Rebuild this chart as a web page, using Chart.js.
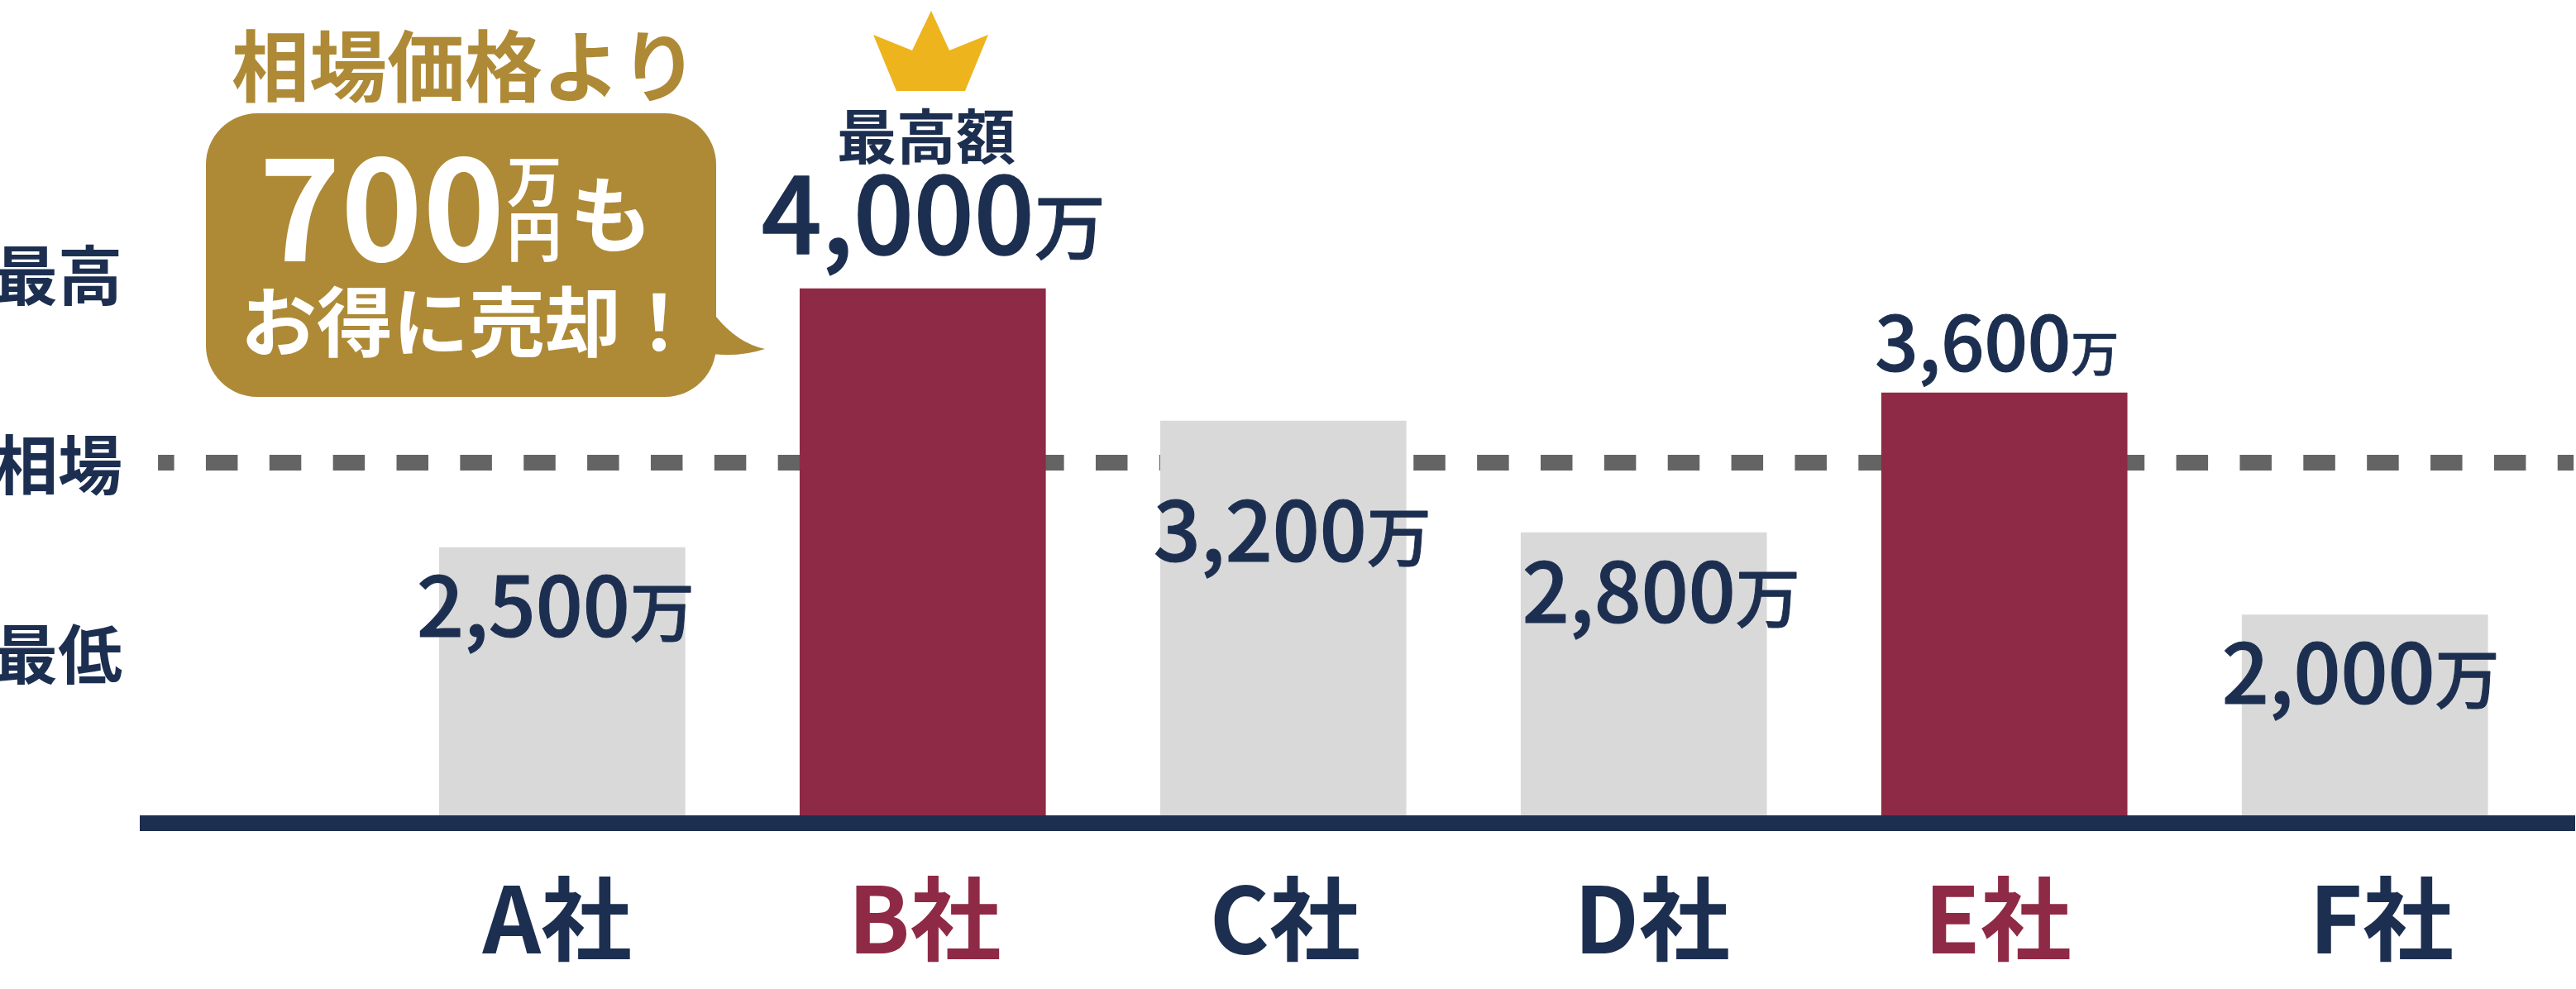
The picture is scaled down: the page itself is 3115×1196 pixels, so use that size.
<!DOCTYPE html>
<html lang="ja">
<head>
<meta charset="utf-8">
<title>買取価格の比較</title>
<script src="https://cdn.jsdelivr.net/npm/chart.js@4"></script>
<style>
    html, body { margin: 0; padding: 0; background: #fff; }
    canvas { display: block; }
</style>
</head>
<body>
<canvas id="priceChart" width="3115" height="1196"></canvas>
<script>
const categories = ['A社', 'B社', 'C社', 'D社', 'E社', 'F社'];
// Figures printed over the bars
const printedValues = [2500, 4000, 3200, 2800, 3600, 2000];
// Bar heights as drawn in the picture (not to scale with the printed figures), B社 = 4000
const drawnValues = [2062, 4000, 3009, 2173, 3220, 1557];
const highlighted = ['B社', 'E社'];
const marketLevel = 2697;
const yTickLevels = [4099, 2681, 1263];
const yTickLabels = ['最高', '相場', '最低'];

const NAVY = '#1d2f50';
const MAROON = '#8f2a46';
const GREY = '#d9d9d9';
const GOLD = '#ae8a37';
const FONT = '"Noto Sans CJK JP", "Noto Sans", sans-serif';

// Label placement relative to the top centre of each bar
const valueLabelLayout = [
    { dx: -8, dy: 108, size: 100, unit: 78 },
    { dx: 13, dy: -42, size: 128, unit: 86 },
    { dx: 11, dy: 170, size: 100, unit: 78 },
    { dx: 21, dy: 109, size: 100, unit: 78 },
    { dx: -9, dy: -26, size: 92, unit: 58 },
    { dx: -5, dy: 107, size: 100, unit: 78 }
];
// The company names sit slightly off the bar centres
const tickNudges = [-0.014, 0.005, 0.005, 0.023, -0.018, 0.046];

function text(ctx, str, x, y, size, color, weight = 700, align = 'left') {
    ctx.font = `${weight} ${size}px ${FONT}`;
    ctx.fillStyle = color;
    ctx.textAlign = align;
    ctx.textBaseline = 'alphabetic';
    ctx.fillText(str, x, y);
}

// The value labels are a little heavier than the regular weight
function heavyText(ctx, str, x, y, size) {
    text(ctx, str, x, y, size, NAVY, 500);
    ctx.strokeStyle = NAVY;
    ctx.lineWidth = size * 0.012;
    ctx.lineJoin = 'round';
    ctx.strokeText(str, x, y);
}

function clearPadding(scale) {
    scale.paddingLeft = scale.paddingRight = scale.paddingTop = scale.paddingBottom = 0;
}

const valueLabels = {
    id: 'valueLabels',
    afterDatasetsDraw(chart) {
        const ctx = chart.ctx;
        const bars = chart.getDatasetMeta(0).data;
        ctx.save();
        bars.forEach((bar, i) => {
            const { dx, dy, size, unit } = valueLabelLayout[i];
            const digits = printedValues[i].toLocaleString('en-US');
            ctx.font = `500 ${size}px ${FONT}`;
            const digitWidth = ctx.measureText(digits).width;
            ctx.font = `500 ${unit}px ${FONT}`;
            const unitWidth = ctx.measureText('万').width;
            const left = bar.x + dx - (digitWidth + unitWidth) / 2;
            const baseline = bar.y + dy;
            heavyText(ctx, digits, left, baseline, size);
            heavyText(ctx, '万', left + digitWidth, baseline, unit);
        });
        ctx.restore();
    }
};

const callout = {
    id: 'callout',
    afterDraw(chart) {
        const ctx = chart.ctx;
        ctx.save();

        // crown over the top bar
        ctx.fillStyle = '#edb41e';
        ctx.beginPath();
        ctx.moveTo(1126, 13);
        ctx.lineTo(1148, 61);
        ctx.lineTo(1195, 42);
        ctx.lineTo(1167, 110);
        ctx.lineTo(1084, 110);
        ctx.lineTo(1056, 42);
        ctx.lineTo(1103, 61);
        ctx.closePath();
        ctx.fill();
        text(ctx, '最高額', 1120, 192, 72, NAVY, 700, 'center');

        // speech bubble
        ctx.fillStyle = GOLD;
        ctx.beginPath();
        ctx.roundRect(249, 137, 617, 343, 62);
        ctx.fill();
        ctx.beginPath();
        ctx.moveTo(866, 383);
        ctx.quadraticCurveTo(892, 415, 925, 422);
        ctx.quadraticCurveTo(895, 432, 860, 428);
        ctx.closePath();
        ctx.fill();

        text(ctx, '相場価格より', 562, 116, 94, GOLD, 700, 'center');
        text(ctx, '700', 313, 316, 168, '#fff', 700);
        text(ctx, '万', 613, 244, 66, '#fff', 700);
        text(ctx, '円', 613, 310, 66, '#fff', 700);
        text(ctx, 'も', 689, 297, 100, '#fff', 700);
        text(ctx, 'お得に売却！', 291, 424, 92, '#fff', 700);
        ctx.restore();
    }
};

const chart = new Chart(document.getElementById('priceChart'), {
    type: 'bar',
    data: {
        datasets: [
            {
                data: drawnValues.map((v, i) => ({ x: i, y: v })),
                backgroundColor: categories.map(c => highlighted.includes(c) ? MAROON : GREY),
                barThickness: 297,
                order: 1
            },
            {
                type: 'line',
                data: [{ x: -1.121, y: marketLevel }, { x: 5.579, y: marketLevel }],
                borderColor: '#646464',
                borderWidth: 19,
                borderDash: [38.5, 38.36],
                borderDashOffset: 19,
                pointRadius: 0,
                order: 2
            }
        ]
    },
    options: {
        responsive: false,
        animation: false,
        layout: { padding: { right: 2 } },
        plugins: { legend: { display: false }, tooltip: { enabled: false } },
        scales: {
            x: {
                type: 'linear',
                offset: false,
                min: -1.151,
                max: 5.581,
                grid: { display: false },
                border: { display: true, color: NAVY, width: 19, z: 1 },
                afterBuildTicks: scale => {
                    scale.ticks = categories.map((_, i) => ({ value: i + tickNudges[i] }));
                },
                afterFit: scale => {
                    scale.height = 201;
                    clearPadding(scale);
                },
                ticks: {
                    autoSkip: false,
                    maxRotation: 0,
                    padding: 42,
                    font: { family: FONT, size: 110, weight: '700' },
                    color: ctx => highlighted.includes(categories[Math.round(ctx.tick.value)]) ? MAROON : NAVY,
                    callback: value => categories[Math.round(value)]
                }
            },
            y: {
                min: 0,
                max: 6161,
                grid: { display: false },
                border: { display: false },
                afterBuildTicks: scale => {
                    scale.ticks = yTickLevels.map(value => ({ value }));
                },
                afterFit: scale => {
                    scale.width = 178;
                    clearPadding(scale);
                },
                ticks: {
                    padding: 22,
                    autoSkip: false,
                    font: { family: FONT, size: 78, weight: '700' },
                    color: NAVY,
                    callback: value => yTickLabels[yTickLevels.indexOf(value)]
                }
            }
        }
    },
    plugins: [valueLabels, callout]
});
</script>
</body>
</html>
